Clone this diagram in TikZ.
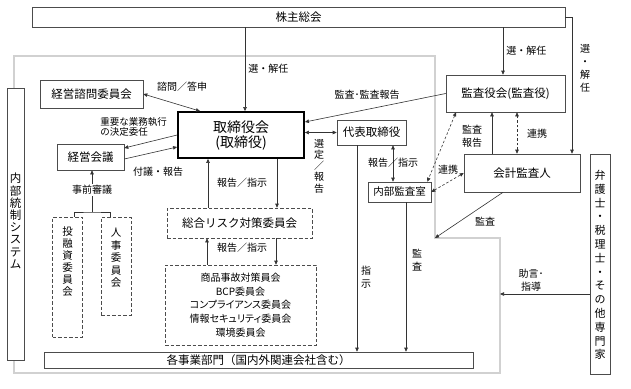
\documentclass[tikz,border=0pt]{standalone}
\usepackage{fontspec}
\setmainfont{Noto Sans CJK JP}
\newfontfamily\pfont[RawFeature=+palt]{Noto Sans CJK JP}
\usetikzlibrary{arrows.meta}

\begin{document}
\begin{tikzpicture}[x=1pt,y=-1pt,>={Triangle[length=4pt,width=3.5pt]},
  line width=0.6pt,draw=black!80,
  box/.style={draw=black!70,inner sep=0pt,font=\fontsize{11.5}{14}\selectfont},
  dbox/.style={box,dash pattern=on 3.5pt off 2pt},
  dline/.style={dash pattern=on 2.5pt off 2pt},
  lbl/.style={inner sep=1pt,font=\fontsize{10}{12}\selectfont},
  tate/.style={inner sep=0pt,align=center,font=\fontsize{10.5}{12}\selectfont}]
\useasboundingbox (0,0) rectangle (631,388);
% internal control frame
\draw[black!50,line width=0.6pt,double=black!18,double distance=1.2pt]
  (14,56) -- (435,56) -- (435,238) -- (500,238) -- (500,373) -- (14,373) -- cycle;
\coordinate (frmC) at (435,238);
\coordinate (frmR) at (500,294);
% boxes
\node[box,minimum width=533,minimum height=20] (kabu) at (298.5,17) {株主総会};
\node[box,fill=white,minimum width=17,minimum height=272] (naibu) at (15.5,224) {};
\node[tate,font=\fontsize{11.5}{12.2}\selectfont] at (15.5,221) {内\\部\\統\\制\\シ\\ス\\テ\\ム};
\node[box,minimum width=103,minimum height=28] (shimon) at (91.5,94) {経営諮問委員会};
\node[box,draw=black,line width=1.8pt,minimum width=126,minimum height=46,align=center,
  font=\fontsize{14}{15}\selectfont] (board) at (241,135) {取締役会\\(取締役)};
\node[box,minimum width=67,minimum height=26] (keiei) at (90.5,157) {経営会議};
\node[dbox,minimum width=30,minimum height=120] (toyushi) at (67.5,277) {};
\node[tate] at (67.5,262) {投\\融\\資\\委\\員\\会};
\node[dbox,minimum width=30,minimum height=98] (jinji) at (116,266) {};
\node[tate,font=\fontsize{10.5}{12.5}\selectfont] at (116,258) {人\\事\\委\\員\\会};
\node[dbox,minimum width=145,minimum height=30] (risk) at (239.5,223) {総合リスク対策委員会};
\node[dbox,minimum width=151,minimum height=80,align=center,
  font=\pfont\fontsize{10}{13.7}\selectfont] (cmte) at (240.5,305)
  {商品事故対策員会\\BCP委員会\\コンプライアンス委員会\\情報セキュリティ委員会\\環境委員会};
\node[box,minimum width=429,minimum height=16] (bumon) at (258.5,360) {各事業部門（国内外関連会社含む）};
\node[box,minimum width=69,minimum height=25] (daihyo) at (371.5,132.5) {代表取締役};
\node[box,fill=white,minimum width=63,minimum height=20,font=\fontsize{10.5}{12}\selectfont] (naikan) at (399.5,192) {内部監査室};
\node[box,minimum width=119,minimum height=37] (kansayaku) at (505.5,93.5) {監査役会(監査役)};
\node[box,minimum width=116,minimum height=38] (kaikei) at (522,173) {会計監査人};
\node[box,minimum width=20,minimum height=220] (senmon) at (600,264) {};
\node[tate,font=\fontsize{11}{13.8}\selectfont] at (600,265) {弁\\護\\士\\・\\税\\理\\士\\・\\そ\\の\\他\\専\\門\\家};
% shareholders
\draw[->] ([xshift=4pt]board.north |- kabu.south) -- ([xshift=4pt]board.north)
  node[lbl,midway,right=2pt] {選・解任};
\draw[->] ([xshift=-2.5pt]kansayaku.north |- kabu.south) -- ([xshift=-2.5pt]kansayaku.north)
  node[lbl,midway,right=2pt] {選・解任};
\draw[->] (kabu.east) -| ([xshift=50pt]kaikei.north);
\node[tate,font=\fontsize{10}{13}\selectfont] at (585,68) {選\\・\\解\\任};
% board and management
\draw[<->] (shimon.east) -- ([xshift=-41pt]board.north);
\node[lbl] at (182,87) {諮問／答申};
\draw[->] (board.west) -- ([yshift=9pt]keiei.east);
\draw[->] ([yshift=-2pt]keiei.east) -- ([yshift=-12pt]board.west);
\node[lbl,anchor=west,align=left,font=\fontsize{9.5}{10.5}\selectfont] at (99,127) {重要な業務執行\\の決定委任};
\node[lbl] at (158,172) {付議・報告};
\coordinate (jn) at (92,212);
\draw ([xshift=6.5pt]toyushi.north) |- (jn) -| ([xshift=-6pt]jinji.north);
\draw[->] (jn) -- (jn |- keiei.south);
\node[lbl,fill=white] at (92,190) {事前審議};
\draw[->] ([xshift=-31.5pt]risk.north) -- ([xshift=-31.5pt]risk.north |- board.south);
\draw[->] ([xshift=36pt]board.south) -- ([xshift=36pt]board.south |- risk.north);
\node[lbl] at (242,183) {報告／指示};
\draw[->] ([xshift=-33.5pt]cmte.north) -- ([xshift=-33.5pt]cmte.north |- risk.south);
\draw[->] ([xshift=36.5pt]risk.south) -- ([xshift=36.5pt]risk.south |- cmte.north);
\node[lbl] at (242,248) {報告／指示};
\draw[<->] (board.east |- daihyo.west) -- (daihyo.west);
\node[tate,font=\fontsize{10}{11.3}\selectfont] at (319,166) {選\\定\\／\\報\\告};
% representative director and internal audit
\draw[->] ([xshift=-14.5pt]daihyo.south) -- ([xshift=-14.5pt]daihyo.south |- bumon.north);
\node[tate,font=\fontsize{10}{13}\selectfont] at (366,277) {指\\示};
\draw[<->] ([xshift=21.5pt]daihyo.south) -- ([xshift=21.5pt]daihyo.south |- naikan.north);
\node[lbl] at (393,163) {報告／指示};
\draw[->] ([xshift=6.5pt]naikan.south) -- ([xshift=6.5pt]naikan.south |- bumon.north);
\node[tate,font=\fontsize{10}{13}\selectfont] at (417,260) {監\\査};
% auditors
\draw[->] (kansayaku.west) -- ([yshift=13pt]board.east);
\node[lbl] at (367,95) {監査･監査報告};
\draw[<->,dline] ([xshift=-49.5pt]kansayaku.south) -- ([xshift=-4pt]naikan.north east);
\draw[->] ([xshift=-30pt]kaikei.north) -- ([xshift=-30pt]kaikei.north |- kansayaku.south);
\node[lbl,align=center,font=\fontsize{10}{12.5}\selectfont] at (472,136) {監査\\報告};
\draw[<->,dline] ([xshift=-5pt]kaikei.north) -- ([xshift=-5pt]kaikei.north |- kansayaku.south);
\node[lbl] at (537,134) {連携};
\draw[<->,dline] (naikan.east) -- (kaikei.west);
\node[lbl] at (448,170) {連携};
\draw[->] ([xshift=-19pt]kaikei.south) -- (frmC);
\node[lbl] at (485,222) {監査};
\draw[->] (senmon.west |- frmR) -- (frmR);
\node[lbl,align=center,font=\fontsize{10}{12.5}\selectfont] at (531,280) {助言･\\指導};
\end{tikzpicture}
\end{document}
